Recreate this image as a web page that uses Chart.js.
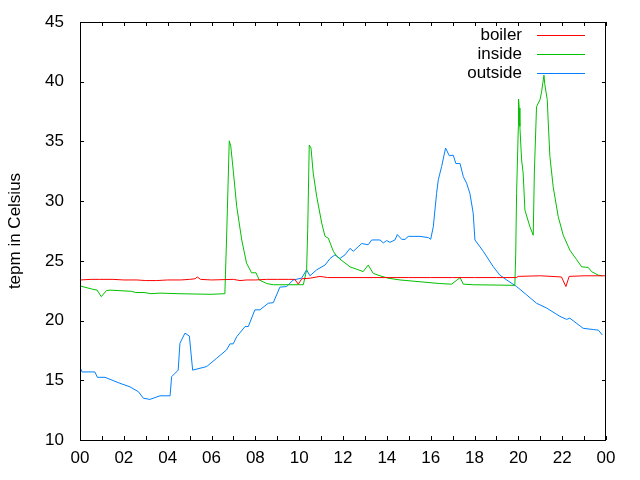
<!DOCTYPE html>
<html>
<head>
<meta charset="utf-8">
<script src="https://cdn.jsdelivr.net/npm/chart.js@4"></script>
<style>
    body { margin: 0; background: #fff; }
    canvas { display: block; }
</style>
</head>
<body>
<canvas id="grafico" width="640" height="480"></canvas>
<script>
// Dados (horas do dia / temperatura em °C)
const boilerHours = [0, 0.5, 0.9, 1.5, 2.0, 2.6, 3.0, 3.5, 4.0, 4.6, 5.0, 5.25, 5.35, 5.5, 6.0, 7.0, 7.3, 7.6, 8.0, 8.5, 9.0, 9.5, 9.8, 9.96, 10.12, 10.5, 10.95, 11.3, 12.0, 13.0, 14.0, 15.0, 16.0, 17.0, 18.0, 19.0, 19.9, 20.0, 21.0, 21.97, 22.17, 22.32, 23.0, 24.0];
const boilerTemps = [23.4, 23.45, 23.45, 23.45, 23.4, 23.4, 23.35, 23.35, 23.4, 23.4, 23.45, 23.5, 23.65, 23.45, 23.4, 23.45, 23.35, 23.4, 23.4, 23.45, 23.45, 23.45, 23.45, 23.05, 23.5, 23.55, 23.7, 23.6, 23.6, 23.6, 23.6, 23.6, 23.6, 23.6, 23.6, 23.6, 23.6, 23.7, 23.75, 23.65, 22.85, 23.7, 23.75, 23.75];

const insideHours = [0, 0.52, 0.78, 0.97, 1.2, 1.37, 2.34, 2.55, 2.92, 3.24, 3.65, 4.47, 5.98, 6.61, 6.69, 6.81, 6.88, 6.99, 7.15, 7.38, 7.6, 7.83, 8.03, 8.18, 8.52, 8.82, 9.12, 10.19, 10.34, 10.39, 10.46, 10.54, 10.64, 10.8, 11.03, 11.18, 11.33, 11.56, 11.71, 11.86, 12.32, 12.92, 13.15, 13.38, 13.69, 14.06, 14.6, 15.51, 16.42, 16.96, 17.34, 17.49, 17.94, 19.84, 19.88, 19.92, 20.0, 20.01, 20.04, 20.07, 20.15, 20.22, 20.3, 20.53, 20.68, 20.73, 20.83, 20.99, 21.06, 21.17, 21.21, 21.32, 21.36, 21.44, 21.59, 21.82, 22.05, 22.35, 22.66, 22.89, 23.19, 23.34, 23.65, 23.83];
const insideTemps = [22.9, 22.65, 22.55, 22.0, 22.5, 22.55, 22.45, 22.35, 22.35, 22.25, 22.3, 22.25, 22.2, 22.25, 27.0, 35.05, 34.6, 32.6, 29.55, 26.75, 24.8, 24.0, 24.0, 23.4, 23.1, 23.0, 23.0, 23.0, 24.25, 27.6, 34.7, 34.45, 32.35, 30.4, 28.15, 27.05, 26.9, 25.8, 25.4, 25.15, 24.5, 24.1, 24.65, 23.95, 23.75, 23.55, 23.4, 23.25, 23.1, 23.05, 23.6, 23.05, 23.0, 22.95, 25.5, 30.65, 36.25, 38.55, 37.8, 36.25, 33.45, 32.35, 29.25, 27.85, 27.15, 32.35, 37.9, 38.5, 39.15, 40.55, 39.75, 38.5, 36.8, 33.75, 31.2, 28.7, 27.15, 25.9, 25.1, 24.5, 24.45, 24.1, 23.8, 23.75];

const outsideHours = [0, 0.09, 0.68, 0.79, 1.14, 1.82, 2.28, 2.66, 2.89, 3.19, 3.65, 4.11, 4.18, 4.48, 4.56, 4.79, 4.99, 5.14, 5.78, 6.24, 6.69, 6.84, 6.99, 7.15, 7.53, 7.68, 7.98, 8.21, 8.59, 8.82, 9.12, 9.43, 9.73, 10.11, 10.34, 10.49, 10.80, 11.18, 11.41, 11.63, 11.86, 12.09, 12.32, 12.47, 12.85, 13.15, 13.31, 13.69, 13.84, 13.99, 14.14, 14.37, 14.48, 14.68, 14.83, 14.98, 15.51, 15.89, 16.0, 16.12, 16.27, 16.35, 16.5, 16.68, 16.85, 17.03, 17.15, 17.34, 17.49, 17.64, 17.79, 17.94, 18.02, 18.4, 18.86, 19.16, 19.47, 19.92, 20.38, 20.83, 21.29, 21.9, 22.2, 22.35, 22.96, 23.42, 23.65, 23.83];
const outsideTemps = [16.1, 15.7, 15.7, 15.25, 15.25, 14.75, 14.45, 14.05, 13.5, 13.4, 13.7, 13.7, 15.3, 15.85, 18.1, 18.95, 18.7, 15.85, 16.15, 16.85, 17.55, 18.05, 18.05, 18.65, 19.5, 19.5, 20.9, 20.9, 21.45, 21.5, 22.8, 22.85, 23.4, 23.55, 24.25, 23.75, 24.25, 24.65, 25.2, 25.5, 25.2, 25.5, 26.05, 25.8, 26.45, 26.35, 26.75, 26.75, 26.5, 26.7, 26.55, 26.75, 27.2, 26.8, 26.8, 27.05, 27.05, 26.95, 26.8, 27.85, 30.65, 31.8, 32.9, 34.45, 33.8, 33.85, 33.15, 33.15, 32.05, 31.5, 30.65, 29.0, 26.75, 25.8, 24.5, 23.8, 23.4, 22.85, 22.15, 21.45, 21.05, 20.35, 20.1, 20.2, 19.35, 19.25, 19.2, 18.8];

const seriesNames = ['boiler', 'inside', 'outside'];
const seriesColors = ['#ff0000', '#00c000', '#0080ff'];

const FONTE = '"Liberation Sans", Arial, sans-serif';

const juntar = (hours, temps) => hours.map((h, i) => ({ x: h, y: temps[i] }));

// Moldura + marcas de escala para dentro (estilo gnuplot)
const moldura = {
    id: 'moldura',
    afterDatasetsDraw: (chart) => {
        const { ctx, chartArea: a, scales } = chart;
        ctx.save();
        ctx.strokeStyle = '#000';
        ctx.lineWidth = 1;
        ctx.beginPath();
        for (let h = 0; h <= 24; h++) {
            const px = Math.round(scales.x.getPixelForValue(h)) + 0.5;
            ctx.moveTo(px, a.bottom); ctx.lineTo(px, a.bottom - 4);
            ctx.moveTo(px, a.top); ctx.lineTo(px, a.top + 4);
        }
        scales.y.ticks.forEach(t => {
            const py = Math.round(scales.y.getPixelForValue(t.value)) + 0.5;
            ctx.moveTo(a.left, py); ctx.lineTo(a.left + 4, py);
            ctx.moveTo(a.right, py); ctx.lineTo(a.right - 4, py);
        });
        ctx.stroke();
        ctx.strokeRect(a.left + 0.5, a.top + 0.5, a.right - a.left - 1, a.bottom - a.top);
        ctx.restore();
    }
};

// Legenda no canto superior direito: texto à direita, amostra da linha depois
const legenda = {
    id: 'legenda',
    afterDraw: (chart) => {
        const { ctx } = chart;
        ctx.save();
        ctx.font = '17px ' + FONTE;
        ctx.textAlign = 'right';
        ctx.textBaseline = 'middle';
        chart.data.datasets.forEach((ds, i) => {
            const y = 35 + i * 19;
            ctx.fillStyle = '#000';
            ctx.fillText(ds.label, 522, y);
            ctx.strokeStyle = seriesColors[i];
            ctx.lineWidth = 1;
            ctx.beginPath();
            ctx.moveTo(537, y + 0.5);
            ctx.lineTo(585, y + 0.5);
            ctx.stroke();
        });
        ctx.restore();
    }
};

new Chart(document.getElementById('grafico').getContext('2d'), {
    type: 'line',
    data: {
        datasets: [
            { label: seriesNames[0], data: juntar(boilerHours, boilerTemps), borderColor: seriesColors[0] },
            { label: seriesNames[1], data: juntar(insideHours, insideTemps), borderColor: seriesColors[1] },
            { label: seriesNames[2], data: juntar(outsideHours, outsideTemps), borderColor: seriesColors[2] }
        ]
    },
    options: {
        responsive: false,
        animation: false,
        layout: { padding: { top: 22, right: 34, left: 0, bottom: 0 } },
        elements: {
            line: { borderWidth: 1, tension: 0 },
            point: { radius: 0 }
        },
        plugins: {
            legend: { display: false },
            tooltip: { enabled: false }
        },
        scales: {
            x: {
                type: 'linear',
                min: 0,
                max: 24,
                grid: { display: false, drawTicks: false },
                border: { display: false },
                ticks: {
                    stepSize: 2,
                    padding: 8,
                    color: '#000',
                    font: { family: FONTE, size: 17 },
                    maxRotation: 0,
                    callback: v => String(v % 24).padStart(2, '0')
                },
                afterFit: s => { s.height = 40; s.paddingLeft = 0; s.paddingRight = 0; }
            },
            y: {
                min: 10,
                max: 45,
                grid: { display: false, drawTicks: false },
                border: { display: false },
                ticks: {
                    stepSize: 5,
                    padding: 16,
                    color: '#000',
                    font: { family: FONTE, size: 17 }
                },
                title: {
                    display: true,
                    text: 'tepm in Celsius',
                    color: '#000',
                    font: { family: FONTE, size: 17 },
                    padding: { top: 5, bottom: 0 }
                },
                afterFit: s => { s.width = 80; s.paddingTop = 0; s.paddingBottom = 0; }
            }
        }
    },
    plugins: [moldura, legenda]
});
</script>
</body>
</html>
